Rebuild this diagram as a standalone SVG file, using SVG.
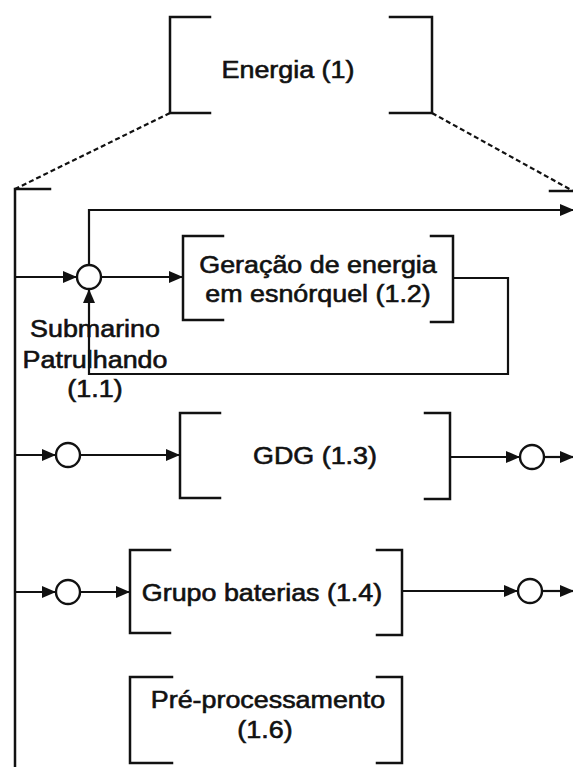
<svg xmlns="http://www.w3.org/2000/svg" width="573" height="767" viewBox="0 0 573 767">
<style>
.br{fill:none;stroke:#111;stroke-width:2.5;stroke-linecap:square}
.ln{fill:none;stroke:#111;stroke-width:2.2}
.ds{fill:none;stroke:#111;stroke-width:2.2;stroke-dasharray:5 3}
.ci{fill:#fff;stroke:#111;stroke-width:2.4}
.tx{font-family:"Liberation Sans",Arial,sans-serif;font-size:24px;fill:#111;stroke:#111;stroke-width:0.6;text-anchor:middle}
</style>
<defs>
<marker id="ah" markerUnits="userSpaceOnUse" markerWidth="16" markerHeight="14" refX="14" refY="7" orient="auto">
<path d="M0,1 L14,7 L0,13 z" fill="#111"/>
</marker>
</defs>
<rect width="573" height="767" fill="#fff"/>
<g id="connectors">
<path class="ds" d="M170,113 L15,189"/>
<path class="ds" d="M432,113 L573,191"/>
<path class="ln" d="M15,277 H77" marker-end="url(#ah)"/>
<path class="ln" d="M101,277 H183" marker-end="url(#ah)"/>
<path class="ln" d="M89,265 V210 H574" marker-end="url(#ah)"/>
<path class="ln" d="M453,278 H508 V374 H89 V289" marker-end="url(#ah)"/>
<path class="ln" d="M15,455 H56" marker-end="url(#ah)"/>
<path class="ln" d="M80,455 H180" marker-end="url(#ah)"/>
<path class="ln" d="M450,457 H520" marker-end="url(#ah)"/>
<path class="ln" d="M544,457 H574" marker-end="url(#ah)"/>
<path class="ln" d="M15,592 H56" marker-end="url(#ah)"/>
<path class="ln" d="M80,592 H130" marker-end="url(#ah)"/>
<path class="ln" d="M402,591 H518" marker-end="url(#ah)"/>
<path class="ln" d="M542,591 H574" marker-end="url(#ah)"/>
</g>
<g id="energia">
<path class="br" d="M210,17 H170 V113 H210"/>
<path class="br" d="M390,17 H432 V113 H390"/>
<text class="tx" transform="translate(288,78) scale(1.12,1)">Energia (1)</text>
</g>
<g id="energia-expandido">
<path class="br" d="M50,189 H15 V770"/>
<path class="br" d="M550,191 H575"/>
</g>
<g id="juncao-1">
<circle class="ci" cx="89" cy="277" r="12"/>
</g>
<g id="submarino-patrulhando">
<text class="tx" transform="translate(95,337) scale(1.12,1)">Submarino</text>
<text class="tx" transform="translate(95,368) scale(1.12,1)">Patrulhando</text>
<text class="tx" transform="translate(95,397) scale(1.12,1)">(1.1)</text>
</g>
<g id="geracao-esnorquel">
<path class="br" d="M223,236 H183 V320 H223"/>
<path class="br" d="M431,236 H453 V322 H431"/>
<text class="tx" transform="translate(318,273) scale(1.12,1)">Geração de energia</text>
<text class="tx" transform="translate(318,302) scale(1.12,1)">em esnórquel (1.2)</text>
</g>
<g id="gdg">
<circle class="ci" cx="68" cy="455" r="12"/>
<path class="br" d="M220,413 H180 V498 H220"/>
<path class="br" d="M425,413 H450 V499 H425"/>
<text class="tx" transform="translate(315,464) scale(1.12,1)">GDG (1.3)</text>
<circle class="ci" cx="532" cy="457" r="12"/>
</g>
<g id="grupo-baterias">
<circle class="ci" cx="68" cy="592" r="12"/>
<path class="br" d="M170,550 H130 V633 H170"/>
<path class="br" d="M377,550 H402 V635 H377"/>
<text class="tx" transform="translate(262,601) scale(1.12,1)">Grupo baterias (1.4)</text>
<circle class="ci" cx="530" cy="591" r="12"/>
</g>
<g id="pre-processamento">
<path class="br" d="M172,677 H130 V763 H172"/>
<path class="br" d="M377,677 H402 V763 H377"/>
<text class="tx" transform="translate(268,708) scale(1.12,1)">Pré-processamento</text>
<text class="tx" transform="translate(265,738) scale(1.12,1)">(1.6)</text>
</g>
</svg>
